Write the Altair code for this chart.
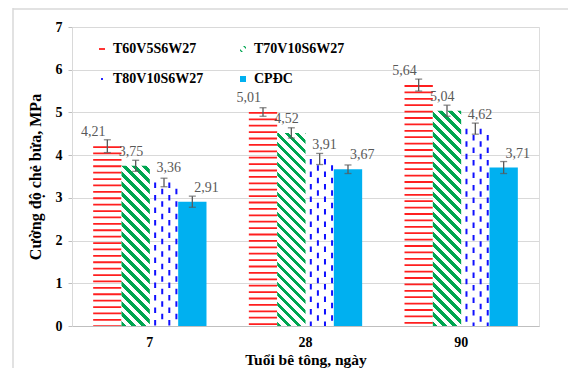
import altair as alt
import pandas as pd

# ---- data ----
ages = ["7", "28", "90"]
series = ["T60V5S6W27", "T70V10S6W27", "T80V10S6W27", "CPĐC"]
t60 = [4.21, 5.01, 5.64]
t70 = [3.75, 4.52, 5.04]
t80 = [3.36, 3.91, 4.62]
cpdc = [2.91, 3.67, 3.71]
err_t60 = [0.15, 0.10, 0.14]
err_t70 = [0.13, 0.12, 0.13]
err_t80 = [0.10, 0.13, 0.13]
err_cpdc = [0.13, 0.10, 0.14]

colors = ["#FF1F1F", "#00A651", "#1010FF", "#00B0F0"]

values = {series[0]: t60, series[1]: t70, series[2]: t80, series[3]: cpdc}
errors = {series[0]: err_t60, series[1]: err_t70, series[2]: err_t80, series[3]: err_cpdc}

rows = []
for s in series:
    for i, a in enumerate(ages):
        v = values[s][i]
        e = errors[s][i]
        rows.append({"age": a, "series": s, "value": v, "lo": v - e, "hi": v + e,
                     "label": f"{v:.2f}".replace(".", ",")})
df = pd.DataFrame(rows)

# ---- layout ----
W, H = 467, 299
YMAX = 7
P_IN, P_OUT = 0.272, 0.136
step = W / (len(ages) - P_IN + 2 * P_OUT)
sub_w = step * (1 - P_IN) / len(series)

FONT = "'Liberation Serif', 'Times New Roman', Times, serif"

x_enc = alt.X("age:N", sort=ages,
              scale=alt.Scale(domain=ages, paddingInner=P_IN, paddingOuter=P_OUT),
              axis=alt.Axis(title="Tuổi bê tông, ngày", labelAngle=0, ticks=False, grid=False,
                            domainColor="#BFBFBF", domainWidth=1,
                            labelFont=FONT, labelFontSize=14, labelFontWeight="bold",
                            labelColor="black", labelPadding=9,
                            titleFont=FONT, titleFontSize=15.5, titleFontWeight="bold",
                            titleColor="black", titlePadding=3))
xoff_enc = alt.XOffset("series:N", sort=series,
                       scale=alt.Scale(domain=series, paddingInner=0, paddingOuter=0))
y_enc = alt.Y("value:Q", scale=alt.Scale(domain=[0, YMAX], nice=False),
              axis=alt.Axis(title="Cường độ chẻ bửa, MPa", values=list(range(0, YMAX + 1)),
                            format="d", grid=True, gridColor="#D9D9D9", gridWidth=1,
                            domainColor="#D9D9D9", tickColor="#BFBFBF", tickSize=4,
                            labelFont=FONT, labelFontSize=14, labelFontWeight="bold",
                            labelColor="black", labelPadding=6,
                            titleFont=FONT, titleFontSize=16, titleFontWeight="bold",
                            titleColor="black", titlePadding=12))

base = alt.Chart(df)

# decorative outer frame (chart border of the original figure)
frame_df = pd.DataFrame({"k": [0]})
frame_left = alt.Chart(frame_df).mark_rule(color="#D9D9D9", strokeWidth=1.5).encode(
    x=alt.value(-59), y=alt.value(-19), y2=alt.value(H + 60))
frame_top = alt.Chart(frame_df).mark_rule(color="#D9D9D9", strokeWidth=1.5).encode(
    x=alt.value(-59), x2=alt.value(W + 40), y=alt.value(-18))

shape_expr = (
    f"datum.value == '{series[0]}' ? 'M-1,-0.3H1V0.3H-1Z' : "
    f"datum.value == '{series[1]}' ? 'M0,-1H0.6L1,-0.6V0Z M-1,0L0,1H-0.6L-1,0.6Z' : "
    f"datum.value == '{series[2]}' ? 'M-0.3,-0.3H0.3V0.3H-0.3Z' : 'square'"
)

legend = alt.Legend(title=None, orient="none", legendX=23, legendY=15, columns=2,
                    direction="horizontal",
                    padding=0, symbolSize=36, symbolStrokeWidth=0,
                    symbolType=alt.ExprRef(expr=shape_expr),
                    labelFont=FONT, labelFontSize=14, labelFontWeight="bold",
                    labelColor="black", labelOffset=4, columnPadding=32, rowPadding=16)

# solid bars (CPĐC) carrying the legend
solid = base.transform_filter(alt.datum.series == series[3]).mark_bar().encode(
    x=x_enc, xOffset=xoff_enc, y=y_enc,
    fill=alt.Fill("series:N", scale=alt.Scale(domain=series, range=colors), legend=legend))

# red horizontal-line pattern: wide dashed rule
red = base.transform_filter(alt.datum.series == series[0]).mark_rule(
    color=colors[0], strokeWidth=sub_w, strokeDash=[1.8, 4.6], strokeCap="butt").encode(
    x=x_enc, xOffset=xoff_enc, y=y_enc, y2=alt.datum(0))


def diag_stripes(h, w, color, period=10.0, band=4.5, bg="#FFFFFF"):
    L = w + h
    k = (w + h) / (w * w + h * h)
    stops = []
    j = 0
    while j * period < L:
        a = j * period / L
        b = min((j * period + band) / L, 1.0)
        c = min((j + 1) * period / L, 1.0)
        stops += [{"offset": round(a, 5), "color": color},
                  {"offset": round(b, 5), "color": color},
                  {"offset": round(b, 5), "color": bg},
                  {"offset": round(c, 5), "color": bg}]
        j += 1
    return {"gradient": "linear", "x1": 0, "y1": 1, "x2": k * w, "y2": 1 - k * h,
            "stops": stops}


greens = []
for i, a in enumerate(ages):
    h = t70[i] / YMAX * H
    greens.append(
        base.transform_filter((alt.datum.series == series[1]) & (alt.datum.age == a))
        .mark_bar(fill=diag_stripes(h, sub_w, colors[1]))
        .encode(x=x_enc, xOffset=xoff_enc, y=y_enc)
    )

# blue dashed vertical-line pattern
slots = [f"s{i}" for i in range(32)]
blue_rows = []
for i, a in enumerate(ages):
    for j, sl in enumerate([17, 19, 21, 23]):
        blue_rows.append({"age": a, "value": t80[i], "slot": slots[sl], "phase": j % 2})
blue_df = pd.DataFrame(blue_rows)
slot_enc = alt.XOffset("slot:N", scale=alt.Scale(domain=slots, paddingInner=0, paddingOuter=0))
blue_a = alt.Chart(blue_df).transform_filter(alt.datum.phase == 0).mark_rule(
    color=colors[2], strokeWidth=2, strokeDash=[5.5, 7], strokeCap="butt").encode(
    x=x_enc, xOffset=slot_enc, y=y_enc, y2=alt.datum(0))
blue_b = alt.Chart(blue_df).transform_filter(alt.datum.phase == 1).mark_rule(
    color=colors[2], strokeWidth=2, strokeDash=[5.5, 7], strokeDashOffset=6.2,
    strokeCap="butt").encode(
    x=x_enc, xOffset=slot_enc, y=y_enc, y2=alt.datum(0))

# error bars
err_rule = base.mark_rule(color="#595959", strokeWidth=1.3).encode(
    x=x_enc, xOffset=xoff_enc, y=alt.Y("lo:Q", scale=alt.Scale(domain=[0, YMAX], nice=False)),
    y2="hi:Q")
cap_lo = base.mark_tick(color="#595959", size=7, thickness=1.3, orient="horizontal").encode(
    x=x_enc, xOffset=xoff_enc, y=alt.Y("lo:Q"))
cap_hi = base.mark_tick(color="#595959", size=7, thickness=1.3, orient="horizontal").encode(
    x=x_enc, xOffset=xoff_enc, y=alt.Y("hi:Q"))

labels = base.mark_text(font=FONT, fontSize=14, color="#595959", dy=-14,
                        align="center", baseline="middle").encode(
    x=x_enc, xOffset=xoff_enc, y=y_enc, text="label:N")

chart = alt.layer(
    frame_left, frame_top, solid, red, *greens, blue_a, blue_b,
    err_rule, cap_lo, cap_hi, labels
).resolve_scale(xOffset="independent").properties(
    width=W, height=H,
    autosize=alt.AutoSizeParams(type="none"),
    padding={"left": 64, "top": 19, "right": 29, "bottom": 42},
).configure_view(stroke=None).configure(background="white")

chart.save("out.html", embed_options={"renderer": "svg", "actions": False})
